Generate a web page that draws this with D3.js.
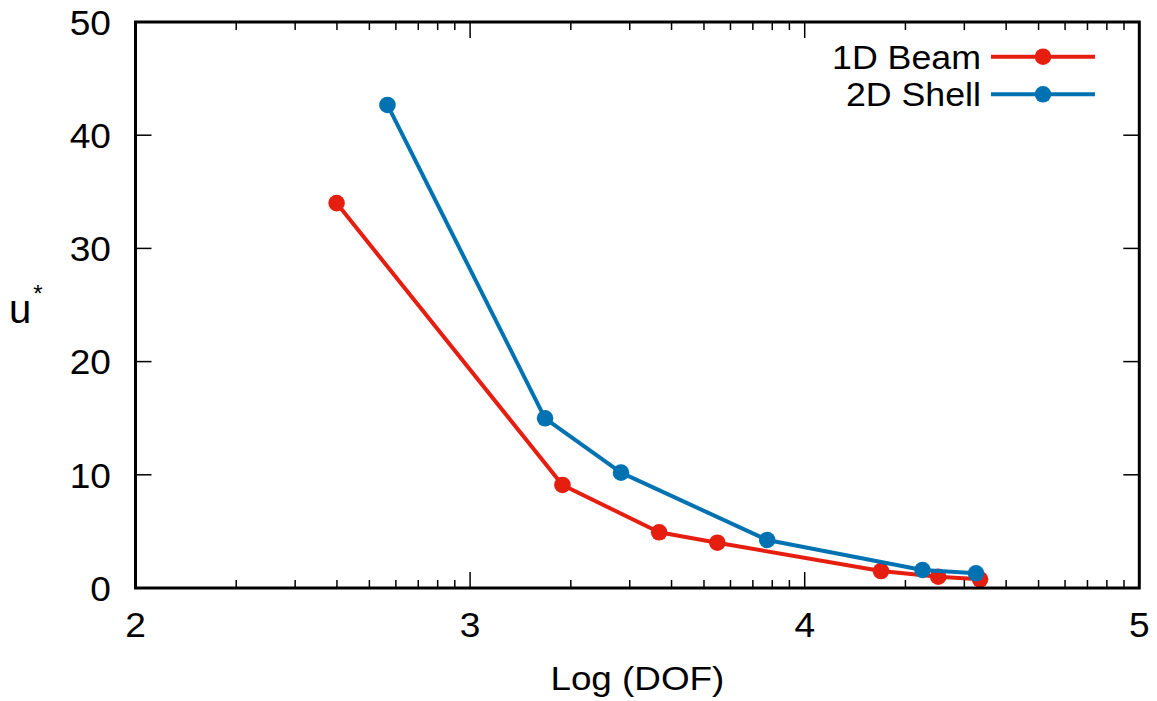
<!DOCTYPE html>
<html>
<head>
<meta charset="utf-8">
<script src="https://cdn.jsdelivr.net/npm/d3@7"></script>
<style>
  html, body { margin: 0; padding: 0; background: #fff; }
  svg { display: block; font-family: "Liberation Sans", Arial, sans-serif; }
</style>
</head>
<body>
<svg id="chart" width="1157" height="701"></svg>
<script>
// ---- data ----
const seriesNames = ["1D Beam", "2D Shell"];
const seriesColors = ["#e51e10", "#0072b2"];
const beamLogDOF = [2.601, 3.276, 3.565, 3.739, 4.228, 4.399, 4.524];
const beamU      = [34.0, 9.1, 4.92, 4.0, 1.5, 1.0, 0.77];
const shellLogDOF = [2.753, 3.224, 3.451, 3.888, 4.352, 4.512];
const shellU      = [42.67, 14.99, 10.19, 4.24, 1.59, 1.3];
const xTicks = [2, 3, 4, 5];
const yTicks = [0, 10, 20, 30, 40, 50];
const xLabel = "Log (DOF)";
const yLabelMain = "u";
const yLabelSup = "*";

// ---- layout ----
const L = 135.5, R = 1139.3, T = 22, B = 588;
const svg = d3.select("#chart");
const x = d3.scaleLinear().domain([2, 5]).range([L, R]);
const y = d3.scaleLinear().domain([0, 50]).range([B, T]);

const majorLen = 16, minorLen = 8;
// log-style minor ticks within each unit of log(DOF)
const minorTicks = [];
for (let d = 2; d < 5; d++) for (let k = 2; k <= 9; k++) minorTicks.push(d + Math.log10(k));

const g = svg.append("g");

function stext(parent, tx, ty, size, sx, anchor, str) {
  return parent.append("text")
    .attr("transform", `translate(${tx},${ty}) scale(${sx},1)`)
    .attr("text-anchor", anchor).attr("font-size", size).attr("fill", "#000")
    .text(str);
}

// ticks (bottom / top)
const tickStroke = "#000";
xTicks.slice(1, -1).forEach(v => {
  g.append("line").attr("x1", x(v)).attr("x2", x(v)).attr("y1", B).attr("y2", B - majorLen).attr("stroke", tickStroke).attr("stroke-width", 1.5);
  g.append("line").attr("x1", x(v)).attr("x2", x(v)).attr("y1", T).attr("y2", T + majorLen).attr("stroke", tickStroke).attr("stroke-width", 1.5);
});
minorTicks.forEach(v => {
  g.append("line").attr("x1", x(v)).attr("x2", x(v)).attr("y1", B).attr("y2", B - minorLen).attr("stroke", tickStroke).attr("stroke-width", 1.5);
  g.append("line").attr("x1", x(v)).attr("x2", x(v)).attr("y1", T).attr("y2", T + minorLen).attr("stroke", tickStroke).attr("stroke-width", 1.5);
});
// ticks (left / right)
yTicks.slice(1, -1).forEach(v => {
  g.append("line").attr("x1", L).attr("x2", L + majorLen).attr("y1", y(v)).attr("y2", y(v)).attr("stroke", tickStroke).attr("stroke-width", 1.5);
  g.append("line").attr("x1", R).attr("x2", R - majorLen).attr("y1", y(v)).attr("y2", y(v)).attr("stroke", tickStroke).attr("stroke-width", 1.5);
});

// tick labels
xTicks.forEach(d => stext(g, x(d), 636.5, 35, 1.06, "middle", d));
yTicks.forEach(d => stext(g, 111, y(d) + 12.8, 35, 1.06, "end", d));

// axis labels
stext(g, (L + R) / 2, 690, 33.5, 1.1, "middle", xLabel);
const yl = g.append("text").attr("x", 9).attr("y", 323).attr("font-size", 40).attr("fill", "#000");
yl.append("tspan").text(yLabelMain);
yl.append("tspan").attr("font-size", 24).attr("dx", 2).attr("dy", -21).text(yLabelSup);

// series
const series = [
  { name: seriesNames[0], color: seriesColors[0], pts: beamLogDOF.map((v, i) => [v, beamU[i]]) },
  { name: seriesNames[1], color: seriesColors[1], pts: shellLogDOF.map((v, i) => [v, shellU[i]]) }
];
const line = d3.line().x(d => x(d[0])).y(d => y(d[1]));
series.forEach(s => {
  const sg = svg.append("g");
  sg.append("path").attr("d", line(s.pts)).attr("fill", "none")
    .attr("stroke", s.color).attr("stroke-width", 4).attr("stroke-linejoin", "round");
  sg.selectAll("circle").data(s.pts).enter().append("circle")
    .attr("cx", d => x(d[0])).attr("cy", d => y(d[1])).attr("r", 8.3).attr("fill", s.color);
});

// legend
const lx1 = 991, lx2 = 1095, lmx = 1043, ly0 = 56.7, lstep = 37.6;
series.forEach((s, i) => {
  const yy = ly0 + i * lstep;
  svg.append("line").attr("x1", lx1).attr("x2", lx2).attr("y1", yy).attr("y2", yy)
    .attr("stroke", s.color).attr("stroke-width", 4);
  svg.append("circle").attr("cx", lmx).attr("cy", yy).attr("r", 8.3).attr("fill", s.color);
  stext(svg, 981, yy + 11.8, 32.5, 1.1, "end", s.name);
});

// frame
svg.append("rect").attr("x", L).attr("y", T).attr("width", R - L).attr("height", B - T)
  .attr("fill", "none").attr("stroke", "#000").attr("stroke-width", 3);
</script>
</body>
</html>
